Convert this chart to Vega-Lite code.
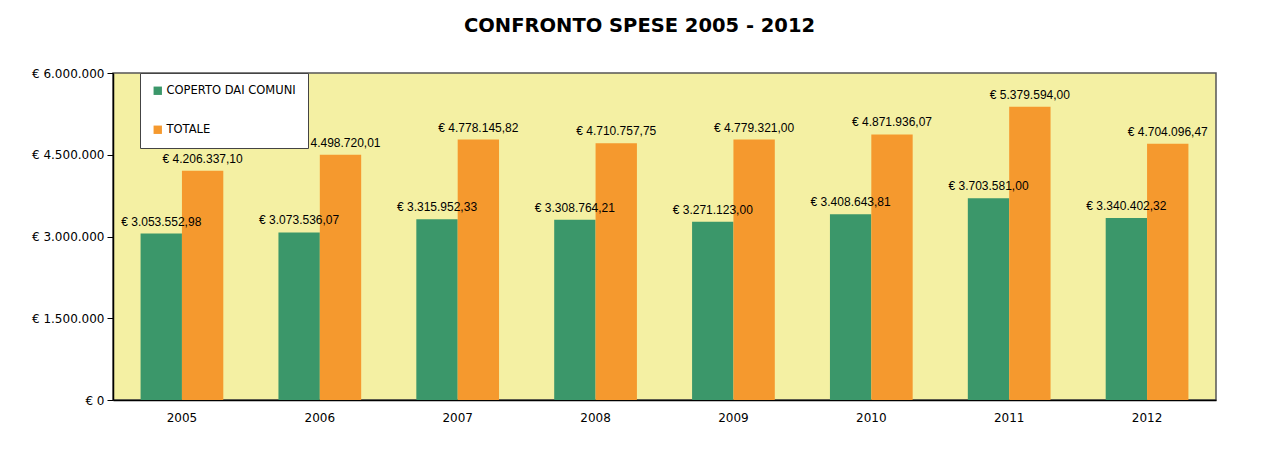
{
  "$schema": "https://vega.github.io/schema/vega-lite/v6.json",
  "autosize": {"type": "none"},
  "padding": {"left": 113, "top": 73, "right": 60, "bottom": 54},
  "width": 1103,
  "height": 327,
  "background": "white",
  "title": {
    "text": "CONFRONTO SPESE 2005 - 2012",
    "font": "DejaVu Sans",
    "fontSize": 19.5,
    "fontWeight": "bold",
    "color": "#000000",
    "anchor": "middle",
    "dx": -25,
    "offset": 31
  },
  "data": {
    "values": [
      {"anno": "2005", "serie": "COPERTO DAI COMUNI", "valore": 3053552.98},
      {"anno": "2005", "serie": "TOTALE", "valore": 4206337.10},
      {"anno": "2006", "serie": "COPERTO DAI COMUNI", "valore": 3073536.07},
      {"anno": "2006", "serie": "TOTALE", "valore": 4498720.01},
      {"anno": "2007", "serie": "COPERTO DAI COMUNI", "valore": 3315952.33},
      {"anno": "2007", "serie": "TOTALE", "valore": 4778145.82},
      {"anno": "2008", "serie": "COPERTO DAI COMUNI", "valore": 3308764.21},
      {"anno": "2008", "serie": "TOTALE", "valore": 4710757.75},
      {"anno": "2009", "serie": "COPERTO DAI COMUNI", "valore": 3271123.00},
      {"anno": "2009", "serie": "TOTALE", "valore": 4779321.00},
      {"anno": "2010", "serie": "COPERTO DAI COMUNI", "valore": 3408643.81},
      {"anno": "2010", "serie": "TOTALE", "valore": 4871936.07},
      {"anno": "2011", "serie": "COPERTO DAI COMUNI", "valore": 3703581.00},
      {"anno": "2011", "serie": "TOTALE", "valore": 5379594.00},
      {"anno": "2012", "serie": "COPERTO DAI COMUNI", "valore": 3340402.32},
      {"anno": "2012", "serie": "TOTALE", "valore": 4704096.47}
    ]
  },
  "encoding": {
    "x": {
      "field": "anno",
      "type": "nominal",
      "scale": {"paddingInner": 0.4, "paddingOuter": 0.2},
      "axis": {
        "title": null,
        "labelAngle": 0,
        "ticks": false,
        "labelPadding": 12,
        "labelFont": "DejaVu Sans",
        "labelFontSize": 12,
        "labelColor": "#000000",
        "domainColor": "#000000",
        "domainWidth": 1.5
      }
    },
    "xOffset": {
      "field": "serie",
      "type": "nominal",
      "sort": ["COPERTO DAI COMUNI", "TOTALE"],
      "scale": {"paddingInner": 0, "paddingOuter": 0}
    },
    "y": {
      "field": "valore",
      "type": "quantitative",
      "scale": {"domain": [0, 6000000], "nice": false},
      "axis": {
        "title": null,
        "values": [0, 1500000, 3000000, 4500000, 6000000],
        "format": "$,.0f",
        "grid": false,
        "tickSize": 6,
        "tickColor": "#000000",
        "labelPadding": 3,
        "labelFont": "DejaVu Sans",
        "labelFontSize": 12,
        "labelColor": "#000000",
        "domainColor": "#000000",
        "domainWidth": 1.5
      }
    }
  },
  "layer": [
    {
      "mark": {"type": "bar"},
      "encoding": {
        "color": {
          "field": "serie",
          "type": "nominal",
          "scale": {
            "domain": ["COPERTO DAI COMUNI", "TOTALE"],
            "range": ["#3B976A", "#F5992E"]
          },
          "legend": {
            "title": null,
            "orient": "none",
            "legendX": 27,
            "legendY": 0,
            "direction": "vertical",
            "fillColor": "#FFFFFF",
            "strokeColor": "#444444",
            "padding": 12,
            "rowPadding": 26,
            "symbolType": "square",
            "symbolSize": 70,
            "symbolStrokeWidth": 0,
            "symbolOpacity": 1,
            "labelFont": "DejaVu Sans",
            "labelFontSize": 11.5,
            "labelColor": "#000000",
            "labelOffset": 3
          }
        }
      }
    },
    {
      "mark": {
        "type": "text",
        "baseline": "bottom",
        "dy": -5,
        "font": "Liberation Sans",
        "fontSize": 12,
        "color": "#000000"
      },
      "encoding": {
        "text": {"field": "valore", "type": "quantitative", "format": "$,.2f"}
      }
    }
  ],
  "config": {
    "locale": {
      "number": {
        "decimal": ",",
        "thousands": ".",
        "grouping": [3],
        "currency": ["€ ", ""]
      }
    },
    "view": {"stroke": "#555555", "strokeWidth": 1.5, "fill": "#F4F0A3"}
  }
}
